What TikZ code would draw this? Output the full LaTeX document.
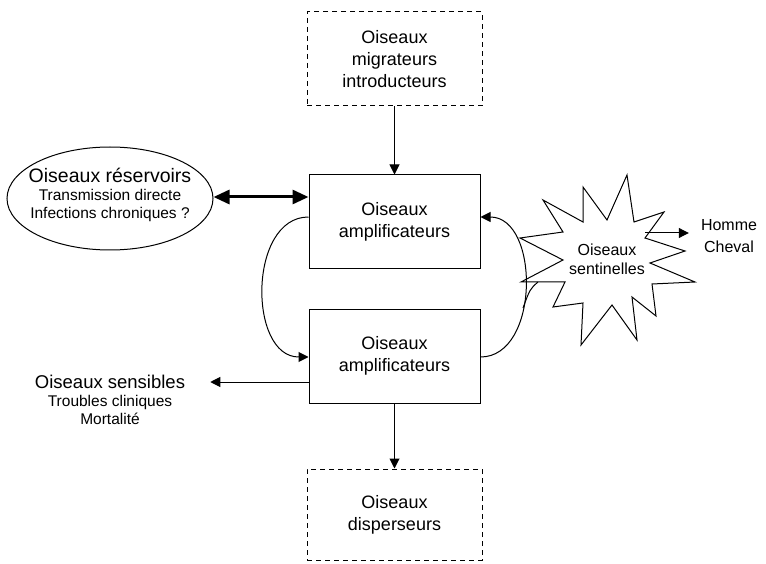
\documentclass[tikz,border=0pt]{standalone}
\usepackage{fontspec}
\setmainfont{Liberation Sans}
\usetikzlibrary{positioning,arrows.meta,shapes.geometric}
\tikzset{>=Triangle}
\tikzset{
  box/.style={draw, line width=1pt, minimum width=171pt, minimum height=94pt, inner sep=0pt, align=center, font=\fontsize{18}{22}\selectfont},
  dashbox/.style={box, dash pattern=on 5pt off 4pt, minimum width=175pt},
  arr/.style={->, line width=1pt, >={Triangle[length=10pt,width=10pt]}},
  dblarr/.style={<->, line width=3pt, >={Triangle[length=16pt,width=14pt]}},
  lbl/.style={align=center, inner sep=0pt, font=\fontsize{15.5}{18}\selectfont},
}

\begin{document}
\begin{tikzpicture}[x=1pt, y=-1pt]
  \useasboundingbox (0,0) rectangle (766,564);

  % Boxes in the middle column
  \node[dashbox] (migr) at (394.5,59) {Oiseaux\\migrateurs\\introducteurs};
  \node[box] (amp1) at (394.5,222) {Oiseaux\\amplificateurs};
  \node[box] (amp2) at (394.5,356) {Oiseaux\\amplificateurs};
  \node[dashbox, minimum height=91pt] (disp) at (394.5,514.5) {Oiseaux\\disperseurs};

  % Reservoir ellipse
  \node[draw, ellipse, line width=1pt, minimum width=206pt, minimum height=103pt, inner sep=0pt] (res) at (110,198.5) {};
  \node[lbl] (restxt) at (110,195)
    {{\fontsize{19.5}{22}\selectfont Oiseaux réservoirs}\\Transmission directe\\Infections chroniques ?};

  % Sensitive birds
  \node[lbl, inner xsep=25pt] (sens) at (110,400)
    {{\fontsize{18.5}{22}\selectfont Oiseaux sensibles}\\Troubles cliniques\\Mortalité};

  % Sentinel star
  \draw[line width=1pt, line join=miter] plot coordinates {
    (627,175) (634,222) (664,212) (645,238) (685,251) (650,263) (695,282) (652,284)
    (656,316) (632,297) (637,340) (612,305) (581,345) (583,303) (553,307) (565,282)
    (521,282) (563,260) (520,238) (563,232) (543,200) (583,222) (583,187) (607,220)
  } -- cycle;
  \node[font=\fontsize{16}{19}\selectfont, align=center, inner sep=0pt] (sent) at (607,259) {Oiseaux\\sentinelles};
  \node[font=\fontsize{16}{22}\selectfont, align=center, inner ysep=0pt, inner xsep=12pt] (homme) at (729,236) {Homme\\Cheval};
  \coordinate (sentout) at (645,233);
  \coordinate (sentin) at (538,282);
  \coordinate (loopjoin) at (523,308);

  % Connectors
  \draw[arr] (migr) -- (amp1);
  \draw[arr] (amp2) -- (disp);
  \draw[dblarr] (res.east |- 0,197) -- (amp1.west |- 0,197);
  \draw[arr] (amp1.west |- 0,217) .. controls (248,217) and (248,357) .. (amp2.west |- 0,357);
  \draw[arr] (amp2.east |- 0,357) .. controls (540,357) and (540,217) .. (amp1.east |- 0,217);
  \draw[line width=1pt] (sentin) .. controls (530,289) .. (loopjoin);
  \draw[arr] (sentout) -- (homme.west |- sentout);
  \draw[arr] (amp2.west |- 0,382) -- (sens.east |- 0,382);
\end{tikzpicture}
\end{document}
